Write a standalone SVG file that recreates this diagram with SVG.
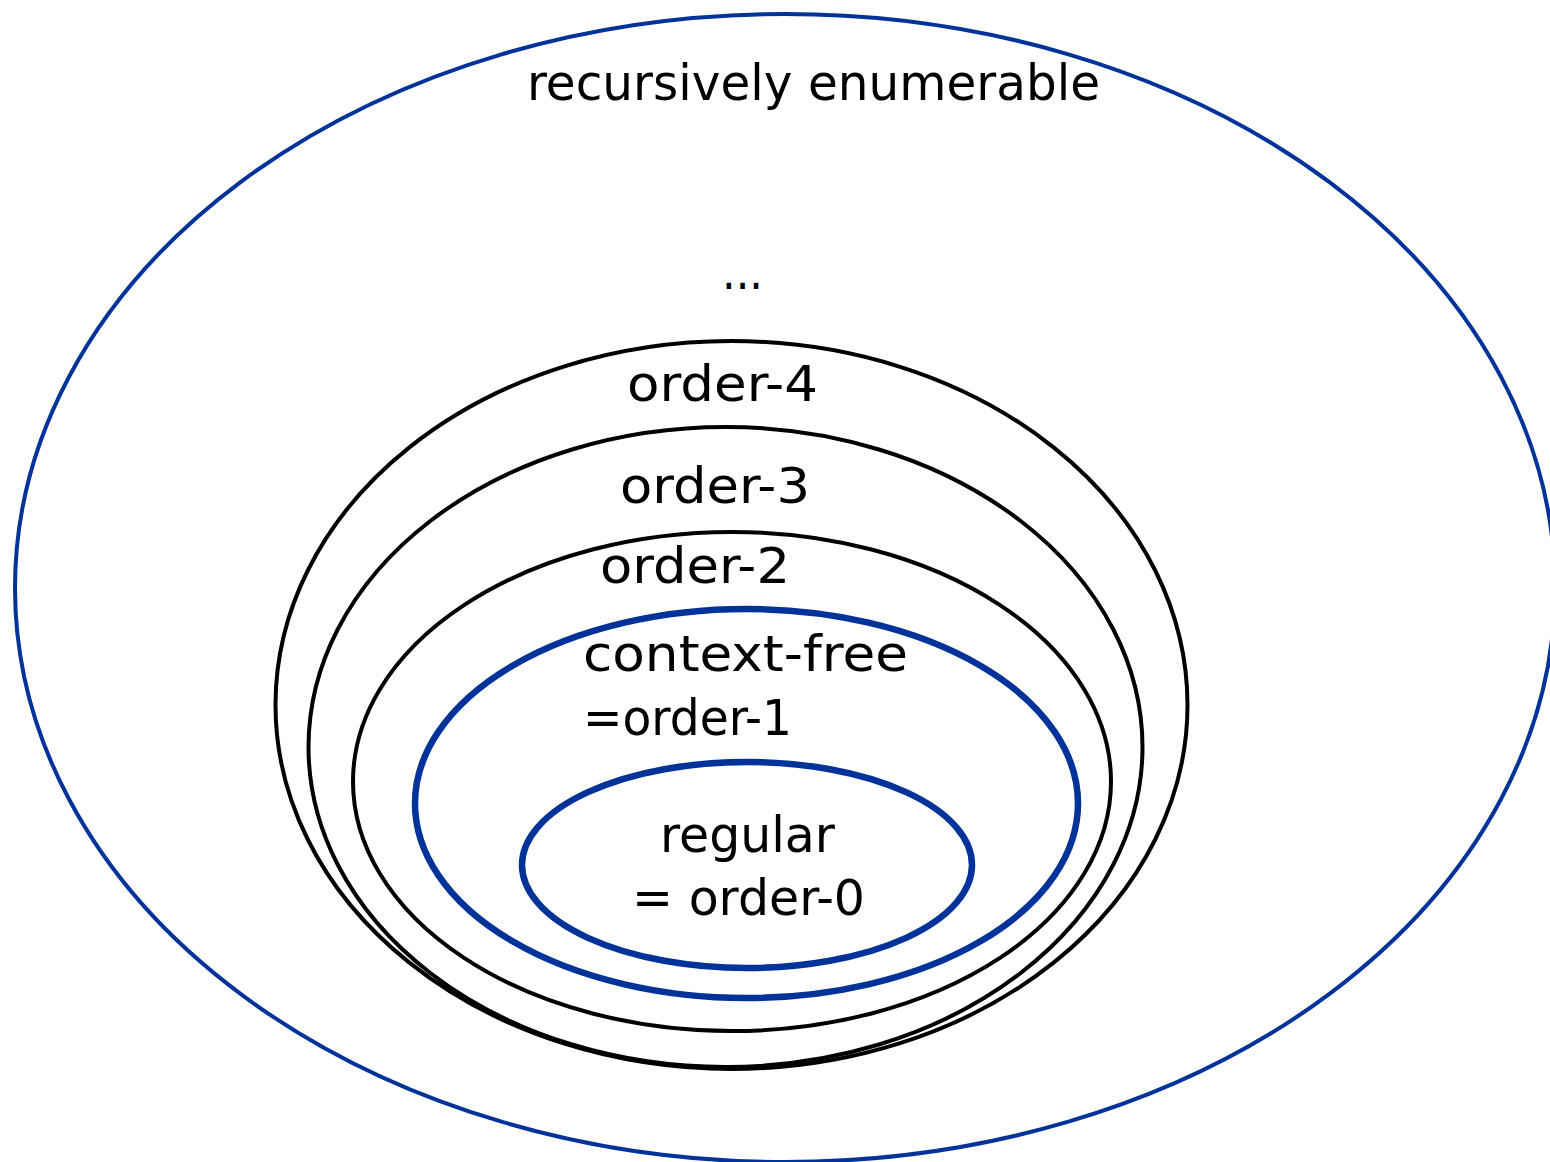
<svg xmlns="http://www.w3.org/2000/svg" width="1550" height="1162" viewBox="0 0 1550 1162">
  <style>
    .lbl { font-family: "DejaVu Sans", "Noto Sans", sans-serif; font-size: 50px; fill: #000; }
    .blue { fill: none; stroke: #003399; }
    .black { fill: none; stroke: #000; stroke-width: 4; }
  </style>
  <rect width="1550" height="1162" fill="#fff"/>

  <g id="recursively-enumerable">
    <ellipse class="blue" stroke-width="4" cx="785" cy="588" rx="770" ry="574"/>
    <text class="lbl" x="527" y="100" textLength="573" lengthAdjust="spacingAndGlyphs">recursively enumerable</text>
    <text class="lbl" x="722" y="289" textLength="41" lengthAdjust="spacingAndGlyphs">...</text>
  </g>

  <g id="order-4">
    <ellipse class="black" cx="731.5" cy="705" rx="456" ry="364"/>
    <text class="lbl" x="627" y="401" textLength="191" lengthAdjust="spacingAndGlyphs">order-4</text>
  </g>

  <g id="order-3">
    <ellipse class="black" cx="725.5" cy="747" rx="417" ry="320"/>
    <text class="lbl" x="620" y="503" textLength="190" lengthAdjust="spacingAndGlyphs">order-3</text>
  </g>

  <g id="order-2">
    <ellipse class="black" cx="732" cy="781.5" rx="379" ry="249.5"/>
    <text class="lbl" x="600" y="583" textLength="190" lengthAdjust="spacingAndGlyphs">order-2</text>
  </g>

  <g id="context-free">
    <ellipse class="blue" stroke-width="6.5" cx="746.5" cy="803.5" rx="331.5" ry="194.5"/>
    <text class="lbl" x="583" y="671" textLength="325" lengthAdjust="spacingAndGlyphs">context-free</text>
    <text class="lbl" x="583" y="735" textLength="209" lengthAdjust="spacingAndGlyphs">=order-1</text>
  </g>

  <g id="regular">
    <ellipse class="blue" stroke-width="6.5" cx="747" cy="865" rx="225" ry="103"/>
    <text class="lbl" x="660" y="852" textLength="175" lengthAdjust="spacingAndGlyphs">regular</text>
    <text class="lbl" x="632" y="915" textLength="233" lengthAdjust="spacingAndGlyphs">= order-0</text>
  </g>

  <g id="connectors"/>
</svg>
